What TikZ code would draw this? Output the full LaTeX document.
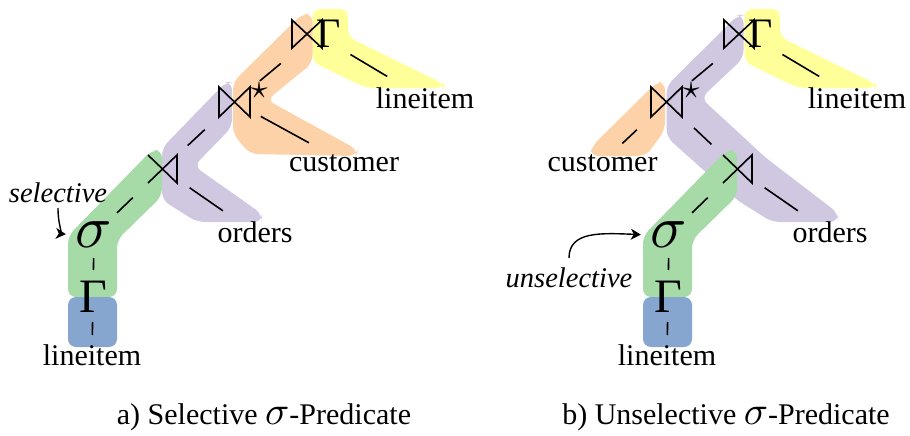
\documentclass[tikz,border=0pt]{standalone}
\usepackage{graphicx}
\usepackage{fontspec}
\setmainfont{Liberation Serif}
\usetikzlibrary{calc,fit,arrows.meta}
\definecolor{cgreen}{RGB}{166,218,166}
\definecolor{cpurple}{RGB}{208,199,225}
\definecolor{corange}{RGB}{253,210,168}
\definecolor{cyellow}{RGB}{255,255,153}
\definecolor{cblue}{RGB}{134,166,207}
\newcommand{\bigsig}{{\fontsize{10}{10}\selectfont\scalebox{4}{$\sigma$}}}
\begin{document}
\begin{tikzpicture}[x=1pt,y=-1pt,
  band/.style={rounded corners=8pt, draw=none},
  sym/.style={line width=1.6pt, line join=miter},
  symbox/.style={inner sep=0pt, outer sep=0pt, minimum width=30pt, minimum height=28pt},
  edge/.style={line width=1.6pt},
  lbl/.style={inner sep=0pt, outer sep=0pt, font=\fontsize{30}{30}\selectfont, text height=18pt, text depth=0pt, anchor=base},
  itlbl/.style={inner sep=0pt, outer sep=0pt, font=\fontsize{28.5}{28.5}\selectfont\itshape, text height=18pt, text depth=0pt, anchor=base},
  gam/.style={inner sep=0pt, outer sep=0pt, font=\fontsize{48}{48}\selectfont, text height=32pt, text depth=0pt},
  gamtop/.style={inner sep=0pt, outer sep=0pt, font=\fontsize{42}{42}\selectfont, text height=28pt, text depth=0pt, anchor=base west},
  sig/.style={inner sep=0pt, outer sep=0pt, font=\fontsize{10}{10}\selectfont, scale=6, text height=4.33pt, text depth=0pt},
  starn/.style={inner sep=0pt, font=\fontsize{10}{10}\selectfont, scale=3.4},
  capt/.style={inner sep=0pt, font=\fontsize{30}{30}\selectfont, anchor=base},
  pointer/.style={line width=1.4pt, -{Stealth[length=10pt,width=11pt,inset=3pt]}}
]
\useasboundingbox (0,0) rectangle (910,436);

% ---------- bands (a) ----------
\fill[cyellow,band] (312.5,9) -- (348,9) -- (348,37) -- (444,84) -- (444,88) -- (366,88) -- (312.5,62) -- cycle;
\fill[corange,band] (233,82) -- (302,14) -- (312.5,14) -- (312.5,63) -- (267,100) -- (358,150) -- (356,156) -- (250,154) -- (233,134) -- cycle;
\fill[cpurple,band] (162,148) -- (226,82) -- (232,82) -- (232,127) -- (194,166) -- (262,214) -- (262,222) -- (197,222) -- (162,200) -- cycle;
\fill[cgreen,band] (68,236) -- (152,150) -- (162,150) -- (162,196) -- (117,240) -- (117,297) -- (68,297) -- cycle;
\fill[cblue,band] (68,297) rectangle (117,347);

% ---------- bands (b) ----------
\begin{scope}[shift={(432,0)}]
\fill[cyellow,band] (312.5,9) -- (348,9) -- (348,37) -- (444,84) -- (444,88) -- (366,88) -- (312.5,62) -- cycle;
\end{scope}
\fill[corange,band] (592,146) -- (657,82) -- (665,82) -- (665,130) -- (646,156) -- (590,156) -- cycle;
\fill[cpurple,band] (666.5,86) -- (738,15) -- (743.5,15) -- (743.5,58) -- (701,98) -- (766,158) -- (838,213) -- (838,222) -- (772,222) -- (737,200) -- (666.5,137) -- cycle;
\begin{scope}[shift={(575,0)}]
\fill[cgreen,band] (68,236) -- (152,150) -- (162,150) -- (162,196) -- (117,240) -- (117,297) -- (68,297) -- cycle;
\fill[cblue,band] (68,297) rectangle (117,347);
\end{scope}

% ---------- nodes (a) ----------
\node[symbox] (J1a) at (307,34) {};
\node[gamtop] (G1a) at (316,48) {Γ};
\node[fit=(J1a)(G1a), inner sep=0pt] (T1a) {};
\node[symbox, minimum width=31pt, minimum height=30pt] (J2a) at (234.5,102) {};
\node[starn] (st2a) at (259,91) {$\star$};
\node[symbox, minimum width=29pt] (S1a) at (162.5,169) {};
\node[sig] (Sa) at (94,235) {$\sigma$};
\node[gam] (Ga) at (93,296) {Γ};
\node[lbl] (L1a) at (425,108) {lineitem};
\node[lbl] (Ca) at (344,171) {customer};
\node[lbl] (Oa) at (255,242) {orders};
\node[lbl] (L2a) at (92,365) {lineitem};
\node[itlbl] (SEa) at (58,202) {selective};

\draw[sym] (J1a.north west) -- (J1a.south east) -- (J1a.north east) -- (J1a.south west) -- cycle;
\draw[sym] (J2a.north west) -- (J2a.south east) -- (J2a.north east) -- (J2a.south west) -- cycle;
\draw[sym] (S1a.north west) -- (S1a.south east) -- (S1a.north east) -- (S1a.south west);

\draw[edge, shorten <=46pt, shorten >=33pt] (T1a.center) -- (J2a.center);
\draw[edge, shorten <=40pt, shorten >=44pt] (T1a.center) -- (L1a.center);
\draw[edge, shorten <=30pt, shorten >=40pt] (J2a.center) -- (Ca.center);
\draw[edge, shorten <=40.6pt, shorten >=34.4pt] (J2a.center) -- (S1a.center);
\draw[edge, shorten <=33pt, shorten >=39pt] (S1a.center) -- (Oa.center);
\draw[edge, shorten <=32pt, shorten >=41.3pt] (Sa.center) -- (S1a.center);
\draw[edge, shorten <=23pt, shorten >=26pt] (Sa.center) -- (Ga.center);
\draw[edge, shorten <=26pt, shorten >=21pt] (Ga.center) -- (L2a.center);
\draw[pointer, shorten <=6pt, shorten >=10pt] (SEa.south) .. controls +(0,25) and +(-12,-1) .. (Sa.west);

% ---------- nodes (b) ----------
\node[symbox] (J1b) at (739,34) {};
\node[gamtop] (G1b) at (748,48) {Γ};
\node[fit=(J1b)(G1b), inner sep=0pt] (T1b) {};
\node[symbox, minimum width=31pt, minimum height=30pt] (J2b) at (666.5,102) {};
\node[starn] (st2b) at (691,91) {$\star$};
\node[symbox, minimum width=29pt] (S1b) at (737.5,169) {};
\node[sig] (Sb) at (669,235) {$\sigma$};
\node[gam] (Gb) at (668,296) {Γ};
\node[lbl] (L1b) at (857,108) {lineitem};
\node[lbl] (Cb) at (602.5,171) {customer};
\node[lbl] (Ob) at (830,242) {orders};
\node[lbl] (L2b) at (667,365) {lineitem};
\node[itlbl] (UNb) at (569,287) {unselective};

\draw[sym] (J1b.north west) -- (J1b.south east) -- (J1b.north east) -- (J1b.south west) -- cycle;
\draw[sym] (J2b.north west) -- (J2b.south east) -- (J2b.north east) -- (J2b.south west) -- cycle;
\draw[sym] (S1b.north west) -- (S1b.south east) -- (S1b.north east) -- (S1b.south west);

\draw[edge, shorten <=46pt, shorten >=33pt] (T1b.center) -- (J2b.center);
\draw[edge, shorten <=40pt, shorten >=44pt] (T1b.center) -- (L1b.center);
\draw[edge, shorten <=40.6pt, shorten >=27.2pt] (J2b.center) -- (Cb.center);
\draw[edge, shorten <=37.7pt, shorten >=35.8pt] (J2b.center) -- (S1b.center);
\draw[edge, shorten <=33pt, shorten >=39pt] (S1b.center) -- (Ob.center);
\draw[edge, shorten <=32pt, shorten >=41.3pt] (Sb.center) -- (S1b.center);
\draw[edge, shorten <=23pt, shorten >=26pt] (Sb.center) -- (Gb.center);
\draw[edge, shorten <=26pt, shorten >=21pt] (Gb.center) -- (L2b.center);
\draw[pointer, shorten <=11pt, shorten >=10pt] (UNb.north) .. controls +(0,-38) and +(-50,-2) .. (Sb.west);

% ---------- captions ----------
\node[capt] (CapA) at (264,424) {a) Selective \bigsig-Predicate};
\node[capt] (CapB) at (726,424) {b) Unselective \bigsig-Predicate};
\end{tikzpicture}
\end{document}
